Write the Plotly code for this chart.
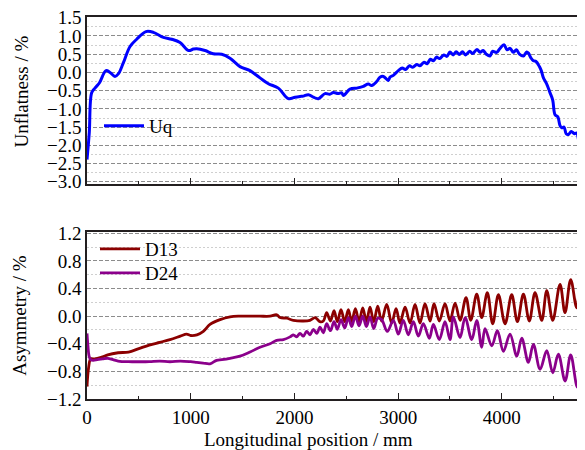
import plotly.graph_objects as go
from plotly.subplots import make_subplots

# Unflatness Uq (top panel)
uq_x = [0, 22, 45, 77, 119, 183, 222, 270, 302, 350, 415, 479, 569, 640, 737, 817, 897,
        978, 1025, 1058, 1138, 1218, 1299, 1379, 1475, 1572, 1668, 1749, 1845, 1942,
        2006, 2054, 2086, 2134, 2183, 2231, 2295, 2340, 2376, 2420, 2456, 2472, 2536,
        2601, 2633, 2665, 2713, 2745, 2793, 2825, 2858, 2905, 2922, 2954, 3002, 3040,
        3070, 3110, 3140, 3180, 3210, 3250, 3280, 3310, 3340, 3370, 3400, 3440, 3470,
        3500, 3530, 3560, 3590, 3620, 3650, 3690, 3720, 3760, 3790, 3820, 3850, 3886,
        3910, 3950, 3980, 4021, 4050, 4080, 4111, 4140, 4170, 4208, 4240, 4256, 4280,
        4304, 4330, 4362, 4380, 4401, 4430, 4465, 4490, 4513, 4540, 4560, 4578, 4600,
        4620, 4642, 4670, 4700, 4722, 4740, 4754, 4780, 4802]
uq_y = [-2.39, -1.65, -0.56, -0.43, -0.29, 0.05, 0.0, -0.11, -0.04, 0.26, 0.71, 0.91, 1.12,
        1.10, 0.96, 0.91, 0.82, 0.60, 0.64, 0.65, 0.60, 0.51, 0.50, 0.39, 0.16, 0.05,
        -0.15, -0.31, -0.43, -0.72, -0.68, -0.66, -0.65, -0.61, -0.68, -0.72, -0.58,
        -0.60, -0.55, -0.58, -0.56, -0.63, -0.46, -0.43, -0.41, -0.38, -0.32, -0.36,
        -0.25, -0.13, -0.11, -0.22, -0.13, -0.08, 0.05, 0.12, 0.08, 0.18, 0.14, 0.22,
        0.18, 0.28, 0.24, 0.36, 0.32, 0.42, 0.38, 0.48, 0.44, 0.56, 0.48, 0.57, 0.49,
        0.57, 0.48, 0.58, 0.52, 0.63, 0.55, 0.60, 0.50, 0.45, 0.58, 0.55, 0.65, 0.76,
        0.62, 0.66, 0.55, 0.62, 0.50, 0.45, 0.56, 0.53, 0.40, 0.32, 0.30, 0.16, 0.05,
        -0.15, -0.30, -0.56, -0.75, -1.16, -1.22, -1.45, -1.52, -1.50, -1.68, -1.70,
        -1.62, -1.68, -1.66, -1.85, -1.98, -2.00, -2.20]

# Asymmetry D13 (bottom panel)
d13_x = [0, 15, 35, 60, 100, 150, 200, 300, 400, 500, 600, 700, 800, 900, 960, 1000,
         1060, 1122, 1186, 1283, 1379, 1475, 1572, 1668, 1765, 1829, 1861, 1926, 1990,
         2086, 2150, 2200, 2245, 2279, 2311, 2347, 2382, 2414, 2449, 2485, 2520, 2552,
         2588, 2623, 2659, 2694, 2729, 2765, 2803, 2840, 2890, 2938, 2980, 3018, 3067,
         3115, 3163, 3211, 3259, 3308, 3346, 3397, 3452, 3500, 3549, 3597, 3655, 3700,
         3758, 3806, 3860, 3912, 3967, 4031, 4095, 4150, 4208, 4265, 4320, 4385, 4433,
         4491, 4561, 4609, 4664, 4722, 4770, 4802]
d13_y = [-1.02, -0.75, -0.62, -0.62, -0.61, -0.59, -0.56, -0.53, -0.52, -0.47, -0.42,
         -0.38, -0.34, -0.29, -0.26, -0.28, -0.27, -0.22, -0.12, -0.05, -0.01, 0.0, 0.0,
         0.0, 0.0, 0.02, -0.02, -0.03, -0.06, -0.07, -0.06, -0.02, -0.08, -0.07, 0.05,
         -0.07, 0.08, -0.08, 0.095, -0.08, 0.095, -0.08, 0.11, -0.08, 0.12, -0.08, 0.13,
         -0.08, 0.145, -0.07, 0.17, -0.10, 0.11, -0.10, 0.13, -0.10, 0.17, -0.10, 0.18,
         -0.07, 0.18, -0.07, 0.18, -0.07, 0.19, -0.06, 0.27, -0.06, 0.32, -0.02, 0.34,
         -0.11, 0.31, -0.11, 0.31, -0.08, 0.32, -0.07, 0.34, -0.06, 0.37, -0.06, 0.46,
         0.05, 0.53, 0.12, 0.59, 0.60]

# Asymmetry D24 (bottom panel)
d24_x = [0, 10, 20, 35, 60, 100, 150, 200, 250, 300, 400, 500, 600, 700, 800, 900, 1000,
         1058, 1120, 1186, 1250, 1300, 1379, 1475, 1572, 1668, 1765, 1829, 1894, 1958,
         1990, 2020, 2054, 2086, 2118, 2150, 2183, 2215, 2247, 2279, 2311, 2347, 2382,
         2414, 2449, 2485, 2520, 2552, 2588, 2623, 2659, 2694, 2729, 2765, 2803, 2841,
         2896, 2954, 3002, 3050, 3098, 3147, 3195, 3243, 3301, 3340, 3397, 3452, 3500,
         3533, 3597, 3646, 3710, 3758, 3806, 3838, 3903, 3957, 4015, 4079, 4144, 4192,
         4256, 4304, 4369, 4433, 4491, 4545, 4610, 4664, 4729, 4786, 4802]
d24_y = [-0.25, -0.45, -0.58, -0.63, -0.64, -0.63, -0.62, -0.61, -0.63, -0.65, -0.66,
         -0.66, -0.66, -0.65, -0.66, -0.65, -0.66, -0.67, -0.68, -0.69, -0.64, -0.63,
         -0.61, -0.58, -0.52, -0.45, -0.40, -0.35, -0.34, -0.30, -0.27, -0.30, -0.25,
         -0.29, -0.22, -0.27, -0.19, -0.25, -0.16, -0.24, -0.11, -0.21, -0.08, -0.19,
         -0.05, -0.17, -0.02, -0.15, 0.0, -0.14, 0.0, -0.15, -0.01, -0.18, -0.03, -0.05,
         -0.22, -0.06, -0.26, -0.06, -0.27, -0.08, -0.29, -0.11, -0.32, -0.12, -0.34,
         -0.08, -0.34, -0.01, -0.31, -0.02, -0.34, -0.06, -0.45, -0.18, -0.43, -0.21,
         -0.51, -0.26, -0.58, -0.32, -0.67, -0.41, -0.77, -0.50, -0.82, -0.55, -0.94,
         -0.56, -1.03, -0.58, -0.57]

FONT = "Liberation Serif"
INK = "#231f20"

fig = make_subplots(rows=2, cols=1, shared_xaxes=False)

fig.add_trace(go.Scatter(x=uq_x, y=uq_y, mode="lines", name="Uq",
                         line=dict(color="#0000ff", width=3, shape="spline"),
                         legend="legend"), row=1, col=1)
fig.add_trace(go.Scatter(x=d13_x, y=d13_y, mode="lines", name="D13",
                         line=dict(color="#8b0000", width=2.8, shape="spline"),
                         legend="legend2"), row=2, col=1)
fig.add_trace(go.Scatter(x=d24_x, y=d24_y, mode="lines", name="D24",
                         line=dict(color="#8b008b", width=2.8, shape="spline"),
                         legend="legend3"), row=2, col=1)

# the original frame runs past the right edge of the picture
xcommon = dict(range=[0, 4879], showline=True, linecolor=INK, linewidth=1.5, mirror=True,
               showgrid=False, zeroline=False, ticks="inside", ticklen=6, tickwidth=1.3,
               tickcolor=INK, dtick=1000, tick0=0, automargin=False,
               minor=dict(dtick=500, ticks="inside", ticklen=3, tickcolor=INK, showgrid=False),
               tickfont=dict(family=FONT, size=19, color="black"))
ycommon = dict(showline=True, linecolor=INK, linewidth=1.5, mirror=False, zeroline=False,
               showgrid=True, gridcolor="#8c8c8c", gridwidth=1.3, griddash="4px,2px",
               ticks="", tickformat=".1f", automargin=False, ticklabeloverflow="allow",
               tickfont=dict(family=FONT, size=19, color="black"),
               title_font=dict(family=FONT, size=19, color="black"))

fig.update_xaxes(**xcommon)
fig.update_xaxes(showticklabels=False, row=1, col=1)
fig.update_yaxes(**ycommon)
fig.update_yaxes(range=[-3.06, 1.52], dtick=0.5, tick0=0,
                 minor=dict(dtick=0.25, tick0=0, showgrid=True, gridcolor="#cfcfcf",
                            gridwidth=1, griddash="2px,2px"),
                 row=1, col=1)
fig.update_yaxes(range=[-1.2, 1.215], dtick=0.4, tick0=0, title_text="Asymmetry / %",
                 minor=dict(dtick=0.2, tick0=0, showgrid=True, gridcolor="#cfcfcf",
                            gridwidth=1, griddash="2px,2px"),
                 row=2, col=1)

# titles placed by hand: the original ones are not centred on their axes
fig.add_annotation(text="Unflatness / %", textangle=-90, xref="paper", yref="paper",
                   x=-0.1304, y=0.805, xanchor="center", yanchor="middle", showarrow=False,
                   font=dict(family=FONT, size=19, color="black"))
fig.add_annotation(text="Longitudinal position / mm", xref="paper", yref="paper",
                   x=0.4387, y=-0.107, xanchor="center", yanchor="middle", showarrow=False,
                   font=dict(family=FONT, size=19, color="black"))

legend_style = dict(xanchor="left", yanchor="middle", bgcolor="rgba(0,0,0,0)",
                    font=dict(family=FONT, size=19, color="black"), itemwidth=40)

# page has an 8px body margin
fig.update_layout(
    xaxis=dict(domain=[0, 1]),
    xaxis2=dict(domain=[0, 1]),
    yaxis=dict(domain=[0.5628, 1.0]),
    yaxis2=dict(domain=[0.0, 0.4364]),
    width=585, height=442,
    margin=dict(l=79, r=0, t=9, b=51),
    paper_bgcolor="white", plot_bgcolor="white",
    font=dict(family=FONT, size=19, color="black"),
    showlegend=True,
    legend=dict(x=0.0237, y=0.7147, **legend_style),
    legend2=dict(x=0.0158, y=0.3927, **legend_style),
    legend3=dict(x=0.0158, y=0.3300, **legend_style),
)

fig.write_html("out.html",
               post_script="document.documentElement.style.overflow='hidden';"
                           "document.body.style.overflow='hidden';")
